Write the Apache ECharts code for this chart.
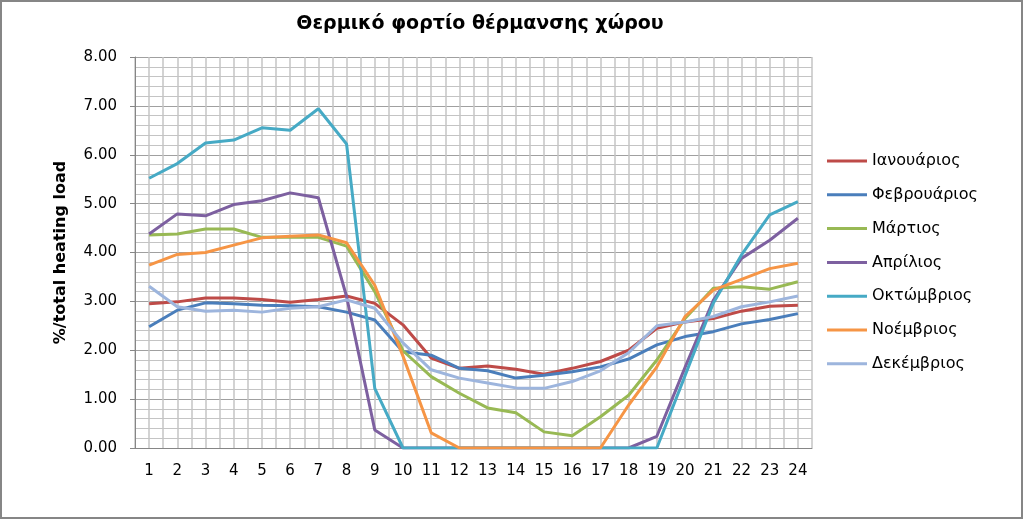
<!DOCTYPE html>
<html>
<head>
<meta charset="utf-8">
<script src="https://cdn.jsdelivr.net/npm/echarts@6/dist/echarts.min.js"></script>
<style>
html,body{margin:0;padding:0;background:#fff;}
#c{width:1023px;height:519px;}
</style>
</head>
<body>
<div id="c"></div>
<script>
const hours = [1,2,3,4,5,6,7,8,9,10,11,12,13,14,15,16,17,18,19,20,21,22,23,24];
const seriesNames = ['Ιανουάριος','Φεβρουάριος','Μάρτιος','Απρίλιος','Οκτώμβριος','Νοέμβριος','Δεκέμβριος'];
const jan = [2.95,2.99,3.07,3.07,3.04,2.98,3.04,3.11,2.96,2.52,1.84,1.63,1.68,1.61,1.51,1.63,1.77,2.00,2.45,2.58,2.65,2.80,2.90,2.92];
const feb = [2.48,2.82,2.97,2.95,2.92,2.91,2.89,2.78,2.62,1.97,1.90,1.63,1.58,1.43,1.49,1.56,1.66,1.82,2.11,2.28,2.38,2.54,2.63,2.75];
const mar = [4.36,4.38,4.48,4.48,4.31,4.31,4.31,4.13,3.20,1.99,1.46,1.12,0.82,0.72,0.33,0.25,0.64,1.08,1.80,2.65,3.27,3.30,3.25,3.40];
const apr = [4.38,4.79,4.75,4.98,5.06,5.22,5.12,3.10,0.37,0,0,0,0,0,0,0,0,0,0.24,1.65,3.02,3.88,4.25,4.70];
const oct = [5.52,5.82,6.24,6.30,6.55,6.50,6.94,6.22,1.22,0,0,0,0,0,0,0,0,0,0,1.48,2.96,3.95,4.77,5.04];
const nov = [3.74,3.96,4.00,4.15,4.30,4.33,4.36,4.20,3.33,1.88,0.31,0,0,0,0,0,0,0.88,1.66,2.69,3.23,3.45,3.67,3.78];
const dec = [3.31,2.89,2.80,2.82,2.78,2.86,2.89,3.03,2.86,2.15,1.60,1.43,1.33,1.23,1.22,1.36,1.58,1.95,2.50,2.58,2.69,2.89,2.99,3.11];
const yTicks = [0,1,2,3,4,5,6,7,8];

const colors = ['#BE4B48','#4A7EBB','#98B954','#7D60A0','#46AAC5','#F69545','#9DB5DD'];
const values = [jan,feb,mar,apr,oct,nov,dec];
const FONT = 'DejaVu Sans';

const chart = echarts.init(document.getElementById('c'), null, {renderer:'canvas'});
chart.setOption({
  backgroundColor:'#fff',
  animation:false,
  color: colors,
  title:{
    text:'Θερμικό φορτίο θέρμανσης χώρου',
    left:475, top:10, textAlign:'center',
    textStyle:{fontFamily:FONT, fontSize:19, fontWeight:'bold', color:'#000'}
  },
  graphic:[{type:'rect', shape:{x:1,y:1,width:1021,height:517}, style:{fill:'none', stroke:'#868686', lineWidth:2}, silent:true}],
  legend:{
    orient:'vertical', left:822, top:146,
    itemWidth:40, itemHeight:14, itemGap:13.8,
    icon:'path://M0,0 L40,0 L40,3 L0,3 Z',
    textStyle:{fontFamily:FONT, fontSize:16, color:'#000', lineHeight:20, padding:[0,0,0,0]},
    data: seriesNames
  },
  grid:{left:135, right:211, top:57, bottom:71, containLabel:false},
  xAxis:{
    type:'value', min:0.5, max:24.5, interval:0.5,
    axisLine:{show:true, lineStyle:{color:'#868686', width:1}},
    axisTick:{show:false},
    axisLabel:{fontFamily:FONT, fontSize:15, color:'#000', margin:16,
      formatter:function(v){ return Number.isInteger(v) && hours.indexOf(v)>=0 ? String(v) : ''; }},
    splitLine:{show:true, lineStyle:{color:'#C4C4C4', width:1.5}}
  },
  yAxis:{
    type:'value', min:yTicks[0], max:yTicks[yTicks.length-1], interval:1,
    name:'%/total heating load', nameLocation:'middle', nameRotate:90, nameGap:66,
    nameTextStyle:{fontFamily:FONT, fontSize:16, fontWeight:'bold', color:'#000'},
    axisLine:{show:true, lineStyle:{color:'#868686', width:1}},
    axisTick:{show:true, length:5, lineStyle:{color:'#868686'}},
    axisLabel:{fontFamily:FONT, fontSize:15, color:'#000', margin:18,
      formatter:function(v){ return v.toFixed(2); }},
    splitLine:{show:true, lineStyle:{color:'#A0A0A0', width:1}},
    minorTick:{show:false, splitNumber:5},
    minorSplitLine:{show:true, lineStyle:{color:'#C4C4C4', width:1}}
  },
  series: seriesNames.map(function(n,i){
    return {
      name:n, type:'line', symbol:'none',
      lineStyle:{width:3, color:colors[i]},
      itemStyle:{color:colors[i]},
      data: hours.map(function(h,j){ return [h, values[i][j]]; })
    };
  })
});
</script>
</body>
</html>
